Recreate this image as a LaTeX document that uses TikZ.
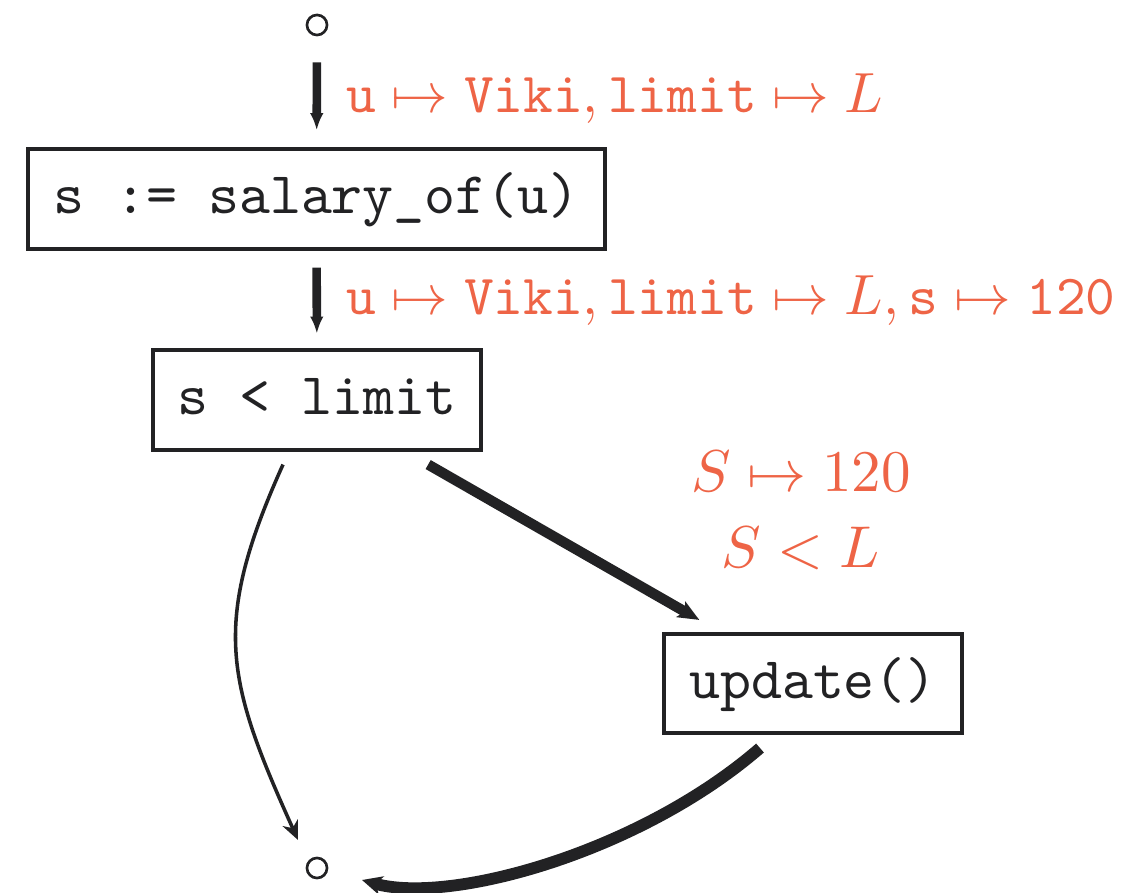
\documentclass[tikz,border=0pt]{standalone}
\usetikzlibrary{arrows.meta,calc}
\definecolor{lab}{RGB}{238,100,70}
\definecolor{ink}{RGB}{34,34,36}
\begin{document}
\begin{tikzpicture}[x=0.1695pt,y=-0.1695pt,
  stmt/.style={draw=ink,line width=0.68pt,font=\ttfamily,text=ink,
    inner xsep=4.2pt,inner ysep=3.4pt,text height=7.5pt,text depth=2.5pt},
  endpt/.style={circle,draw=ink,line width=0.45pt,minimum size=3.4pt,inner sep=0pt},
  lbl/.style={text=lab,inner sep=0pt},
  vflow/.style={draw=ink,line width=1.45pt,-{Latex[length=2.9pt,width=2.3pt]}},
  thinflow/.style={draw=ink,line width=0.6pt,-{Stealth[length=3.2pt,width=2.8pt,inset=1pt]}},
  thickflow/.style={draw=ink,line width=1.75pt,-{Stealth[length=3.6pt,width=3pt,inset=0.8pt]}},
  heavyflow/.style={draw=ink,line width=2pt,-{Stealth[length=3.4pt,width=3.2pt,inset=1pt]}}]
\useasboundingbox (0,0) rectangle (1132,893);

\node[endpt] (start) at (317,25) {};
\node[stmt] (b1) at (316.5,199) {s := salary\_of(u)};
\node[stmt] (b2) at (317,400) {s < limit};
\node[stmt] (b3) at (813,683.5) {update()};
\node[endpt] (stop) at (317,868) {};

\node[lbl,anchor=base west] (l1) at (345,113)
  {\scalebox{0.96}{$\mathtt{u}\mapsto\mathtt{Viki},\mathtt{limit}\mapsto L$}};
\node[lbl,anchor=base west] (l2) at (345,315)
  {\scalebox{0.96}{$\mathtt{u}\mapsto\mathtt{Viki},\mathtt{limit}\mapsto L,\mathtt{s}\mapsto\mathtt{120}$}};
\node[lbl,anchor=base] (l3) at (801,492) {$S\mapsto 120$};
\node[lbl,anchor=base] (l4) at (801,568) {$S<L$};

\draw[vflow,shorten <=4.4pt,shorten >=2.9pt] (start) -- (b1);
\draw[vflow,shorten <=2.9pt,shorten >=2.5pt] (b1) -- (b2);

\draw[thinflow] ($(b2.south)+(-34,13)$)
  .. controls ($(b2.south)+(-106,173)$) and ($(stop)+(-91,-188)$) .. ($(stop)+(-19,-28)$);
\draw[thickflow] ($(b2.south east)+(-55,13)$) -- ($(b3.north west)+(37,-12)$);
\draw[heavyflow] ($(b3.south)+(-53,13)$)
  .. controls ($(b3.south)+(-173,117)$) and ($(stop)+(133,37)$) .. ($(stop)+(45,12)$);
\end{tikzpicture}
\end{document}
